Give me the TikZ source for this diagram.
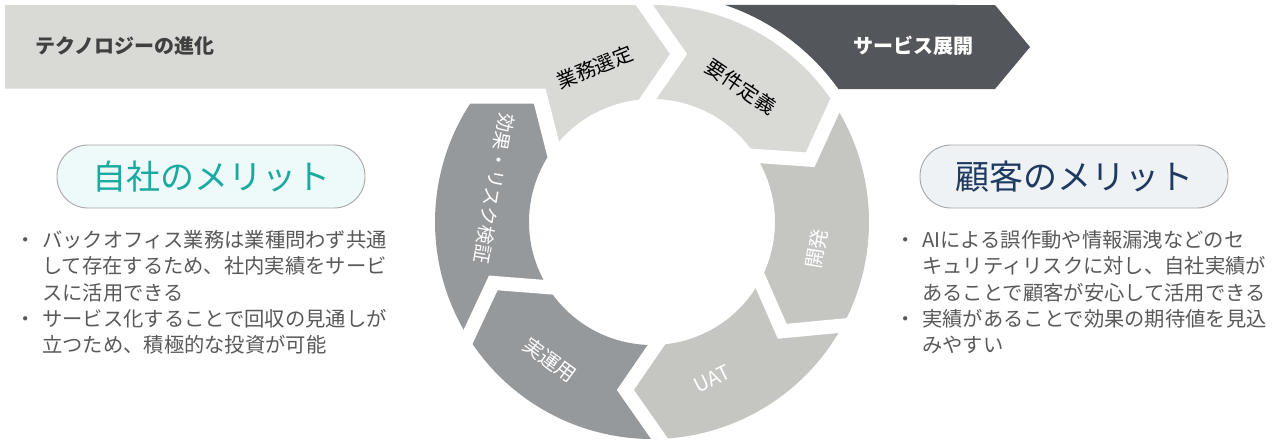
\documentclass[tikz,border=0pt]{standalone}
\usepackage{fontspec}
\setmainfont{Noto Sans CJK JP}
\usetikzlibrary{calc}
\definecolor{cBand}{HTML}{D9DAD6}
\definecolor{cMid}{HTML}{C5C6C1}
\definecolor{cDk}{HTML}{96999C}
\definecolor{cDark}{HTML}{53565B}
\definecolor{cTeal}{HTML}{19AAA1}
\definecolor{cNavy}{HTML}{1F3A60}
\definecolor{cTxt}{HTML}{595959}
\definecolor{cBandTxt}{HTML}{404040}
\definecolor{cPillL}{HTML}{EEF9F9}
\definecolor{cPillR}{HTML}{EFF2F5}
\definecolor{cEdge}{HTML}{A6A6A6}
\begin{document}
\begin{tikzpicture}[x=1pt,y=-1pt,
  gapline/.style={draw=white,line width=14pt,line join=miter,line cap=butt},
  ringlbl/.style={font=\fontsize{20}{24}\selectfont, inner sep=0pt},
  bandlbl/.style={font=\fontsize{20}{24}\selectfont\bfseries, inner sep=0pt},
  pill/.style={draw=cEdge, line width=0.9pt, rounded corners=31pt, minimum width=308pt, minimum height=63pt, inner sep=0pt, font=\fontsize{34}{40}\selectfont},
  bodytxt/.style={font=\fontsize{20.3}{26}\selectfont, text=cTxt, inner sep=0pt, anchor=base west},
]
\fill[white] (0,0) rectangle (1284,440);
\useasboundingbox (0,0) rectangle (1284,440);

% fixed image points
\coordinate (b0) at (5,5);
\coordinate (b3) at (5,96);
\coordinate (b4) at (700,96);
\coordinate (g0) at (-5,96);
\coordinate (d1) at (995,5);
\coordinate (d2) at (1030,47);
\coordinate (d3) at (995,89);

\begin{scope}[shift={(652,222)}, yscale=-1]
  % boundaries: outer, tip, inner
  \coordinate (B1o) at (92:217);    \coordinate (B1t) at (81:170);    \coordinate (B1i) at (92:123);
  \coordinate (B2o) at (32.5:217);  \coordinate (B2t) at (21.5:170);  \coordinate (B2i) at (32.5:123);
  \coordinate (B3o) at (-28.5:217); \coordinate (B3t) at (-40:170);   \coordinate (B3i) at (-28.5:123);
  \coordinate (B4o) at (-88:217);   \coordinate (B4t) at (-99:170);   \coordinate (B4i) at (-88:123);
  \coordinate (B5o) at (-148:217);  \coordinate (B5t) at (-159:170);  \coordinate (B5i) at (-148:123);
  \coordinate (B6o) at (143.5:217); \coordinate (B6t) at (131.5:170); \coordinate (B6i) at (143.5:123);
  \coordinate (X) at (intersection of B6i--B6t and b3--b4);

  % band + 業務選定
  \fill[cBand] (b0) -- (B1o) -- (B1t) -- (B1i) arc[start angle=92, end angle=143.5, radius=123] -- (X) -- (b3) -- cycle;
  % 要件定義
  \fill[cBand] (B1o) arc[start angle=92, end angle=32.5, radius=217] -- (B2t) -- (B2i)
     arc[start angle=32.5, end angle=92, radius=123] -- (B1t) -- cycle;
  % 開発
  \fill[cMid] (B2o) arc[start angle=32.5, end angle=-28.5, radius=217] -- (B3t) -- (B3i)
     arc[start angle=-28.5, end angle=32.5, radius=123] -- (B2t) -- cycle;
  % UAT
  \fill[cMid] (B3o) arc[start angle=-28.5, end angle=-88, radius=217] -- (B4t) -- (B4i)
     arc[start angle=-88, end angle=-28.5, radius=123] -- (B3t) -- cycle;
  % 実運用
  \fill[cDk] (B4o) arc[start angle=-88, end angle=-148, radius=217] -- (B5t) -- (B5i)
     arc[start angle=-148, end angle=-88, radius=123] -- (B4t) -- cycle;
  % 効果・リスク検証 (clipped below the band)
  \begin{scope}
    \clip (50,126) rectangle (-300,-250);
    \fill[cDk] (B5o) arc[start angle=-148, end angle=-216.5, radius=217] -- (B6t) -- (B6i)
       arc[start angle=-216.5, end angle=-148, radius=123] -- (B5t) -- cycle;
  \end{scope}
  % サービス展開 band
  \fill[cDark] (71.4:229) -- (d1) -- (d2) -- (d3) -- (35.5:229) arc[start angle=35.5, end angle=71.4, radius=229] -- cycle;

  % white gaps
  \draw[gapline] ($(B1t)!1.2!(B1o)$) -- (B1t) -- ($(B1t)!1.3!(B1i)$);
  \draw[gapline] ($(B2t)!1.12!(B2o)$) -- (B2t) -- ($(B2t)!1.3!(B2i)$);
  \draw[gapline] ($(B3t)!1.2!(B3o)$) -- (B3t) -- ($(B3t)!1.3!(B3i)$);
  \draw[gapline] ($(B4t)!1.2!(B4o)$) -- (B4t) -- ($(B4t)!1.3!(B4i)$);
  \draw[gapline] ($(B5t)!1.2!(B5o)$) -- (B5t) -- ($(B5t)!1.3!(B5i)$);
  \draw[gapline, line width=15pt] (g0) -- (X) -- ($(X)!1.25!(B6i)$);

  % ring labels
  \node[ringlbl, text=black, rotate=22] (lGyomu) at (110.2:165) {業務選定};
  \node[ringlbl, text=black, rotate=-34] (lYoken) at (56.6:162) {要件定義};
  \node[ringlbl, text=white, rotate=80.7] (lKaihatsu) at (-9.3:167) {開発};
  \node[ringlbl, text=white, rotate=26] (lUAT) at (-69:168) {UAT};
  \node[ringlbl, text=white, rotate=-36.5] (lJitsu) at (-126.5:171.6) {実運用};
  \node[ringlbl, text=white, rotate=-100, font=\fontsize{19}{22}\selectfont] (lKoka) at (167.9:161.6) {効果・リスク検証};
\end{scope}

% band labels
\node[bandlbl, text=cBandTxt, anchor=west] (tTech) at (35,46) {テクノロジーの進化};
\node[bandlbl, text=white] (tServ) at (913,46) {サービス展開};

% pills
\node[pill, fill=cPillL, text=cTeal] (pL) at (211,176.5) {自社のメリット};
\node[pill, fill=cPillR, text=cNavy] (pR) at (1074,176.5) {顧客のメリット};

% left text
\node[bodytxt] (lb1) at (15,247.7) {・};
\node[bodytxt] (l1) at (42,247.7) {バックオフィス業務は業種問わず共通};
\node[bodytxt] (l2) at (42,273.9) {して存在するため、社内実績をサービ};
\node[bodytxt] (l3) at (42,300.1) {スに活用できる};
\node[bodytxt] (lb2) at (15,326.3) {・};
\node[bodytxt] (l4) at (42,326.3) {サービス化することで回収の見通しが};
\node[bodytxt] (l5) at (42,352.5) {立つため、積極的な投資が可能};

% right text
\node[bodytxt] (rb1) at (895,247.7) {・};
\node[bodytxt] (r1) at (922,247.7) {AIによる誤作動や情報漏洩などのセ};
\node[bodytxt] (r2) at (922,273.9) {キュリティリスクに対し、自社実績が};
\node[bodytxt] (r3) at (922,300.1) {あることで顧客が安心して活用できる};
\node[bodytxt] (rb2) at (895,326.3) {・};
\node[bodytxt] (r4) at (922,326.3) {実績があることで効果の期待値を見込};
\node[bodytxt] (r5) at (922,352.5) {みやすい};
\end{tikzpicture}
\end{document}
